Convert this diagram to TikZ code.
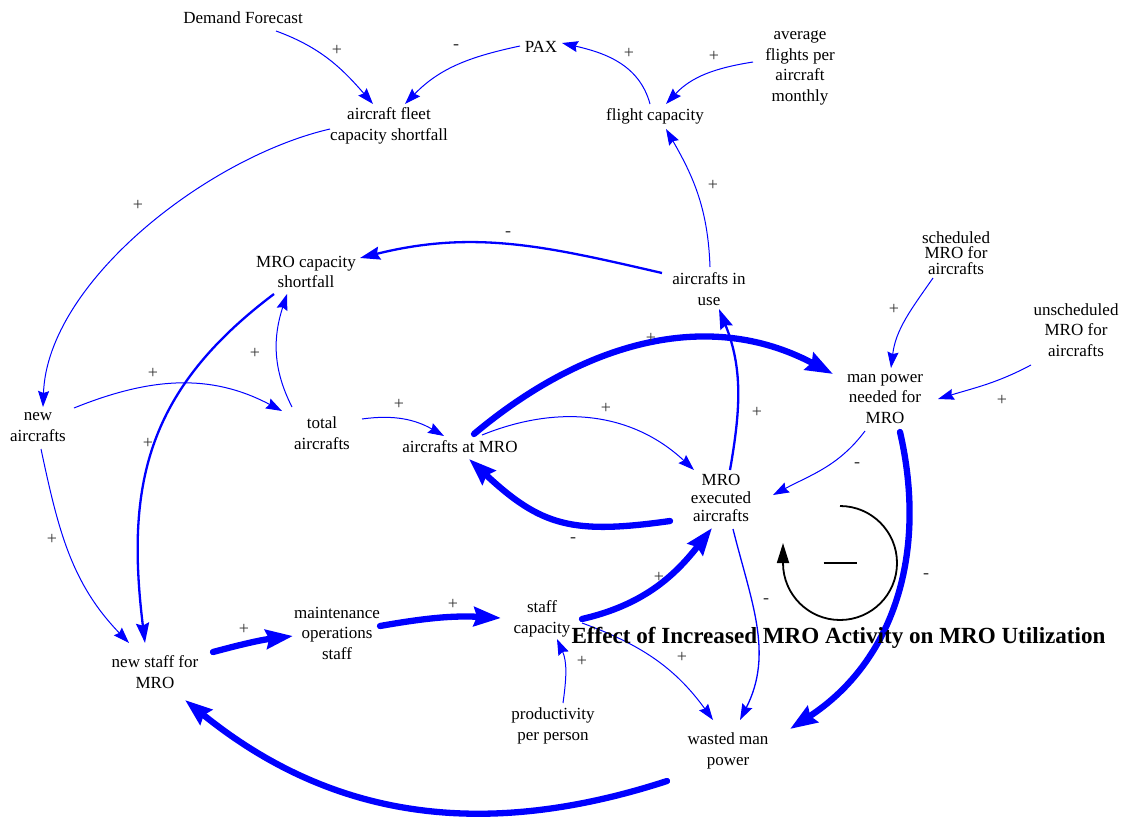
\documentclass[tikz,border=0pt]{standalone}
\usepackage{fontspec}
\setmainfont{Liberation Serif}
\usetikzlibrary{arrows.meta}
\definecolor{linkblue}{RGB}{0,0,255}
\begin{document}
\begin{tikzpicture}[x=1pt,y=1pt,
  var/.style={align=center,inner sep=0pt,font=\fontsize{17}{20.5}\selectfont},
  pol/.style={inner sep=0pt,font=\fontsize{18}{18}\selectfont,text=black!80},
  link/.style={draw=linkblue,line width=1pt,-{Stealth[length=16pt,width=11pt,inset=2pt]}},
  midlink/.style={draw=linkblue,line width=2.3pt,-{Stealth[length=20pt,width=13pt,inset=2.5pt]}},
  thicklink/.style={draw=linkblue,line width=6.3pt,line cap=round,-{Stealth[length=27pt,width=19pt,inset=3pt]}},
  looparrow/.style={draw=black,line width=1.8pt,-{Triangle[length=20pt,width=12pt]}}
]
\useasboundingbox (0,0) rectangle (1123,-819);

% variables
\node[var] (dem) at (243,-18) {Demand Forecast};
\node[var] (pax) at (541,-47) {PAX};
\node[var] (fleet) at (389,-126) {aircraft fleet\\capacity shortfall};
\node[var] (flight) at (655,-116) {flight capacity};
\node[var] (avg) at (800,-68) {average\\flights per\\aircraft\\monthly};
\node[var] (mrocap) at (306,-272) {MRO capacity\\shortfall};
\node[var] (inuse) at (709,-289) {aircrafts in\\use};
\node[var,font=\fontsize{17}{15.5}\selectfont] (sched) at (956,-253) {scheduled\\MRO for\\aircrafts};
\node[var] (unsched) at (1076,-330) {unscheduled\\MRO for\\aircrafts};
\node[var] (manpower) at (885,-399) {man power\\needed for\\MRO};
\node[var] (newac) at (38,-427) {new\\aircrafts};
\node[var] (total) at (322,-433) {total\\aircrafts};
\node[var] (atmro) at (460,-447) {aircrafts at MRO};
\node[var,font=\fontsize{17}{18}\selectfont] (exec) at (721,-498) {MRO\\executed\\aircrafts};
\node[var] (maint) at (337,-633) {maintenance\\operations\\staff};
\node[var] (staff) at (542,-619) {staff\\capacity};
\node[var] (newstaff) at (155,-672) {new staff for\\MRO};
\node[var] (prod) at (553,-726) {productivity\\per person};
\node[var] (wasted) at (728,-751) {wasted man\\power};

% causal links
\draw[link] ([shift={(33,-13)}]dem.center) to[out=-20,in=131] ([shift={(-16,22)}]fleet.center);
\draw[link] ([shift={(-21,1)}]pax.center) to[out=192,in=46] ([shift={(16,22)}]fleet.center);
\draw[link] ([shift={(-5,12)}]flight.center) to[out=105,in=-13] ([shift={(21,4)}]pax.center);
\draw[link] ([shift={(-47,6)}]avg.center) to[out=189,in=47] ([shift={(11,12)}]flight.center);
\draw[link] ([shift={(1,22)}]inuse.center) to[out=92,in=-60] ([shift={(11,-13)}]flight.center);
\draw[link] ([shift={(-59,-3)}]fleet.center) to[out=193,in=88,looseness=0.8] ([shift={(5,20)}]newac.center);
\draw[midlink] ([shift={(-47,16)}]inuse.center) to[out=167,in=14] ([shift={(54,14)}]mrocap.center);
\draw[link] ([shift={(36,19)}]newac.center) to[out=22,in=152] ([shift={(-40,22)}]total.center);
\draw[link] ([shift={(-30,26)}]total.center) to[out=117,in=-108] ([shift={(-19,-22)}]mrocap.center);
\draw[midlink] ([shift={(-32,-22)}]mrocap.center) to[out=-143,in=97,looseness=1.1] ([shift={(-10,29)}]newstaff.center);
\draw[link] ([shift={(3,-22)}]newac.center) to[out=-78,in=134] ([shift={(-26,29)}]newstaff.center);
\draw[link] ([shift={(40,14)}]total.center) to[out=8,in=150] ([shift={(-16,11)}]atmro.center);
\draw[thicklink] ([shift={(14,13)}]atmro.center) to[out=40,in=152] ([shift={(-52,25)}]manpower.center);
\draw[link] ([shift={(22,12)}]atmro.center) to[out=22,in=137] ([shift={(-27,28)}]exec.center);
\draw[midlink] ([shift={(9,28)}]exec.center) to[out=80,in=-68] ([shift={(10,-20)}]inuse.center);
\draw[thicklink] ([shift={(-51,-23)}]exec.center) to[out=188,in=-43,looseness=1.2] ([shift={(9,-12)}]atmro.center);
\draw[link] ([shift={(-20,-32)}]manpower.center) to[out=-127,in=28] ([shift={(52,3)}]exec.center);
\draw[link] ([shift={(-23,-25)}]sched.center) to[out=-125,in=83] ([shift={(6,31)}]manpower.center);
\draw[link] ([shift={(-45,-35)}]unsched.center) to[out=-152,in=17] ([shift={(53,0)}]manpower.center);
\draw[thicklink] ([shift={(15,-33)}]manpower.center) to[out=-77,in=33] ([shift={(62,22)}]wasted.center);
\draw[link,line width=1.3pt] ([shift={(12,-31)}]exec.center) to[out=-76,in=63] ([shift={(12,31)}]wasted.center);
\draw[thicklink] ([shift={(40,0)}]staff.center) to[out=13,in=-128] ([shift={(-9,-30)}]exec.center);
\draw[link] ([shift={(40,-4)}]staff.center) to[out=-20,in=126] ([shift={(-15,31)}]wasted.center);
\draw[link] ([shift={(10,23)}]prod.center) to[out=82,in=-66] ([shift={(15,-20)}]staff.center);
\draw[thicklink] ([shift={(43,7)}]maint.center) to[out=10,in=177] ([shift={(-41,1)}]staff.center);
\draw[thicklink] ([shift={(58,20)}]newstaff.center) to[out=15,in=-173] ([shift={(-44,-3)}]maint.center);
\draw[thicklink] ([shift={(-61,-30)}]wasted.center) to[out=-162,in=-39] ([shift={(30,-28)}]newstaff.center);

% link polarities
\node[pol] (p1) at (337,-50) {+};
\node[pol] (p2) at (456,-47) {-};
\node[pol] (p3) at (629,-53) {+};
\node[pol] (p4) at (714,-56) {+};
\node[pol] (p5) at (713,-185) {+};
\node[pol] (p6) at (138,-205) {+};
\node[pol] (p7) at (508,-234) {-};
\node[pol] (p8) at (153,-373) {+};
\node[pol] (p9) at (255,-353) {+};
\node[pol] (p10) at (148,-443) {+};
\node[pol] (p11) at (52,-539) {+};
\node[pol] (p12) at (399,-404) {+};
\node[pol] (p13) at (651,-338) {+};
\node[pol] (p14) at (606,-408) {+};
\node[pol] (p15) at (757,-412) {+};
\node[pol] (p16) at (573,-540) {-};
\node[pol] (p17) at (857,-465) {-};
\node[pol] (p18) at (894,-309) {+};
\node[pol] (p19) at (1002,-400) {+};
\node[pol] (p20) at (926,-576) {-};
\node[pol] (p21) at (766,-601) {-};
\node[pol] (p22) at (659,-577) {+};
\node[pol] (p23) at (682,-657) {+};
\node[pol] (p24) at (582,-661) {+};
\node[pol] (p25) at (453,-604) {+};
\node[pol] (p26) at (244,-629) {+};

% balancing loop marker
\coordinate (loopc) at (840,-563);
\draw[looparrow] ([yshift=57pt]loopc) arc[start angle=90,end angle=-180,radius=57pt] -- ++(0,20);
\node[inner sep=0pt] (loopsign) at (loopc) {\rule{33pt}{2.4pt}};

% title
\node[anchor=base,inner sep=0pt,font=\fontsize{23.1}{27}\selectfont\bfseries] (title) at (838.5,-643) {Effect of Increased MRO Activity on MRO Utilization};
\end{tikzpicture}
\end{document}
